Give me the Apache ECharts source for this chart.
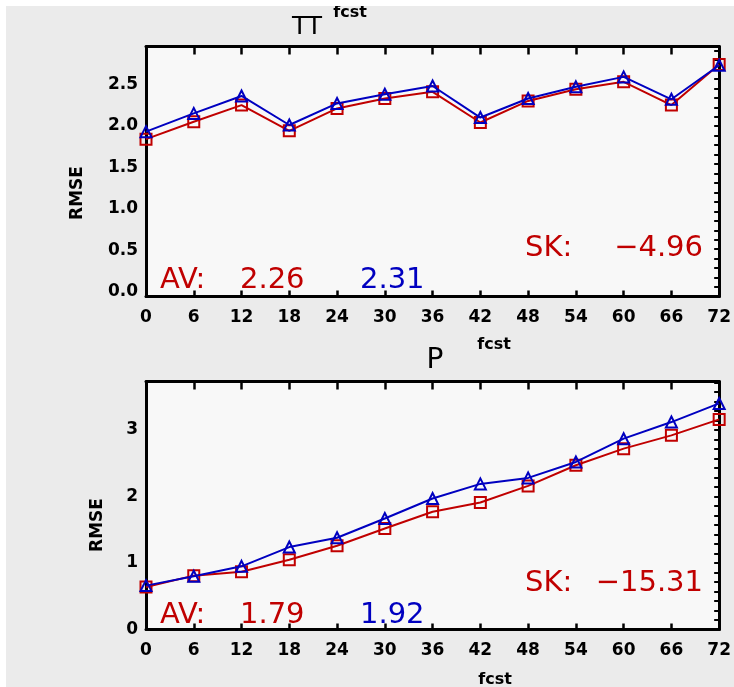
<!DOCTYPE html>
<html>
<head>
<meta charset="utf-8">
<script src="https://cdn.jsdelivr.net/npm/echarts@6/dist/echarts.min.js"></script>
<style>
  html, body { margin: 0; padding: 0; background: #ffffff; }
  #chart { width: 734px; height: 687px; }
</style>
</head>
<body>
<div id="chart"></div>
<script>
// Forecast lead times (hours)
const fcstHours = [0, 6, 12, 18, 24, 30, 36, 42, 48, 54, 60, 66, 72];

// TT panel: RMSE of the two runs
const ttRed  = [1.84, 2.05, 2.25, 1.94, 2.21, 2.33, 2.41, 2.04, 2.30, 2.44, 2.53, 2.25, 2.74];
const ttBlue = [1.93, 2.15, 2.36, 2.01, 2.27, 2.38, 2.48, 2.10, 2.33, 2.47, 2.59, 2.32, 2.73];

// P panel: RMSE of the two runs
const pRed  = [0.64, 0.81, 0.87, 1.05, 1.26, 1.52, 1.77, 1.91, 2.16, 2.47, 2.72, 2.92, 3.16];
const pBlue = [0.66, 0.80, 0.95, 1.24, 1.38, 1.67, 1.97, 2.19, 2.28, 2.52, 2.87, 3.12, 3.40];

// Axis tick labels
const ttYTicks = [0, 0.5, 1.0, 1.5, 2.0, 2.5];
const pYTicks  = [0, 1, 2, 3];

// Summary annotations
const ttStats = { avRed: '2.26', avBlue: '2.31', sk: '\u22124.96' };
const pStats  = { avRed: '1.79', avBlue: '1.92', sk: '\u221215.31' };

const RED = '#c00000';
const BLUE = '#0000c0';
const TICK_FONT = 'DejaVu Sans';
const FRAME = { color: '#000', width: 3 };

const pairs = vals => fcstHours.map((h, i) => [h, vals[i]]);

// frame edges are the axis lines; ticks point into the plot
function xAxes(gridIndex) {
  return [
    {
      type: 'value', gridIndex, position: 'bottom', min: 0, max: 72, interval: 6,
      axisLine: { show: true, onZero: false, lineStyle: FRAME },
      axisTick: { show: true, inside: true, length: 6, lineStyle: { color: '#000', width: 2.5 } },
      axisLabel: { show: true, margin: 13, color: '#000', fontFamily: TICK_FONT, fontWeight: 'bold', fontSize: 17 },
      splitLine: { show: false }
    },
    {
      type: 'value', gridIndex, position: 'top', min: 0, max: 72, interval: 6,
      axisLine: { show: true, onZero: false, lineStyle: FRAME },
      axisTick: { show: true, inside: true, length: 8, lineStyle: { color: '#000', width: 2.5 } },
      axisLabel: { show: false },
      splitLine: { show: false }
    }
  ];
}

function yAxes(gridIndex, min, max, ticks, decimals, dashStep) {
  return [
    {
      type: 'value', gridIndex, position: 'left', min, max,
      axisLine: { show: true, onZero: false, lineStyle: FRAME },
      axisTick: { show: false },
      axisLabel: {
        show: true, margin: 8, color: '#000', fontFamily: TICK_FONT, fontWeight: 'bold', fontSize: 17,
        customValues: ticks,
        formatter: v => Number(v).toFixed(decimals)
      },
      splitLine: { show: false }
    },
    {
      type: 'value', gridIndex, position: 'right', min, max, interval: dashStep,
      axisLine: { show: true, onZero: false, lineStyle: FRAME },
      axisTick: { show: true, inside: true, length: 5, lineStyle: { color: '#000', width: 2 } },
      axisLabel: { show: false },
      splitLine: { show: false }
    }
  ];
}

function series(xi, yi, red, blue) {
  return [
    {
      type: 'line', xAxisIndex: xi, yAxisIndex: yi, data: pairs(red),
      symbol: 'rect', symbolSize: 11, showAllSymbol: true,
      lineStyle: { color: RED, width: 2 },
      itemStyle: { color: 'transparent', borderColor: RED, borderWidth: 2 },
      z: 3, silent: true, animation: false
    },
    {
      type: 'line', xAxisIndex: xi, yAxisIndex: yi, data: pairs(blue),
      symbol: 'triangle', symbolSize: 11, showAllSymbol: true,
      lineStyle: { color: BLUE, width: 2 },
      itemStyle: { color: 'transparent', borderColor: BLUE, borderWidth: 2 },
      z: 4, silent: true, animation: false
    }
  ];
}

function text(x, y, str, opts) {
  return {
    type: 'text', x, y, z: 20,
    style: Object.assign({
      text: str, fill: '#000', fontFamily: 'DejaVu Sans', fontSize: 17,
      textAlign: 'left', textVerticalAlign: 'middle'
    }, opts || {})
  };
}

function statTexts(s, avY, skY) {
  const big = { fontSize: 29, fontFamily: 'DejaVu Sans' };
  return [
    text(160, avY, 'AV:', Object.assign({ fill: RED }, big)),
    text(240, avY, s.avRed, Object.assign({ fill: RED }, big)),
    text(360, avY, s.avBlue, Object.assign({ fill: BLUE }, big)),
    text(525, skY, 'SK:', Object.assign({ fill: RED }, big)),
    text(703, skY, s.sk, Object.assign({ fill: RED, textAlign: 'right' }, big))
  ];
}

const chart = echarts.init(document.getElementById('chart'), null, { renderer: 'canvas' });

const gridStyle = { show: true, borderWidth: 0, backgroundColor: '#f8f8f8' };

chart.setOption({
  animation: false,
  backgroundColor: '#ffffff',
  grid: [
    Object.assign({ left: 146, top: 46.5, width: 578, height: 250 }, gridStyle),
    Object.assign({ left: 146, top: 381.5, width: 578, height: 248 }, gridStyle)
  ],
  xAxis: [...xAxes(0), ...xAxes(1)],
  yAxis: [
    ...yAxes(0, -0.056, 2.956, ttYTicks, 1, 0.114),
    ...yAxes(1, 0, 3.73, pYTicks, 0, 0.143)
  ],
  series: [
    ...series(0, 0, ttRed, ttBlue),
    ...series(2, 2, pRed, pBlue)
  ],
  graphic: [
    { type: 'rect', shape: { x: 6, y: 6, width: 728, height: 681 }, style: { fill: '#ebebeb' }, z: -10, silent: true },
    // header label partly hidden under the white top margin
    text(350, 13, 'fcst', { fontWeight: 'bold', fontSize: 16, textAlign: 'center' }),
    { type: 'rect', shape: { x: 0, y: 0, width: 734, height: 6 }, style: { fill: '#ffffff' }, z: 30, silent: true },

    text(307, 27, 'TT', { fontSize: 25, textAlign: 'center' }),
    text(435, 361, 'P', { fontSize: 28, textAlign: 'center' }),

    text(494, 345, 'fcst', { fontWeight: 'bold', fontSize: 16, textAlign: 'center' }),
    text(495, 680, 'fcst', { fontWeight: 'bold', fontSize: 16, textAlign: 'center' }),

    Object.assign(text(78, 193, 'RMSE', { fontWeight: 'bold', fontSize: 17, textAlign: 'center' }), { rotation: Math.PI / 2 }),
    Object.assign(text(98, 525, 'RMSE', { fontWeight: 'bold', fontSize: 17, textAlign: 'center' }), { rotation: Math.PI / 2 }),

    ...statTexts(ttStats, 280, 248),
    ...statTexts(pStats, 615, 583)
  ]
});
</script>
</body>
</html>
